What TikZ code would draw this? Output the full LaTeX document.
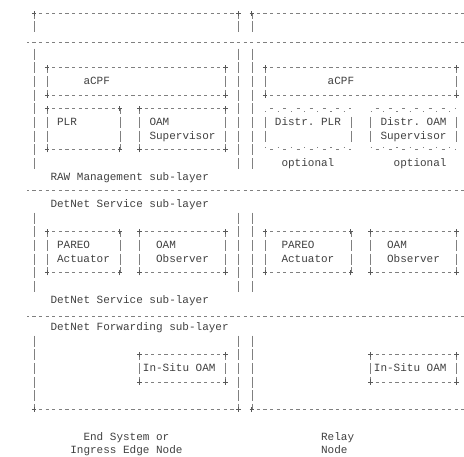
\documentclass[tikz,border=0pt]{standalone}
\usepackage{fontspec}
\setmonofont{Liberation Mono}
\usetikzlibrary{fit}
\definecolor{inkline}{gray}{0.5}
\definecolor{inkcorner}{gray}{0.35}
\definecolor{inktext}{gray}{0.25}
% one unit = one character cell: 6.6pt wide, 13.66pt high (rows grow downwards)
\tikzset{
  hl/.style={draw=inkline, line width=0.7pt, dash pattern=on 3.2pt off 3.4pt, dash phase=1.6pt},
  vlc/.style={draw=inkline, line width=0.6pt, dash pattern=on 11pt off 2.66pt, dash phase=5.5pt},
  vlh/.style={vlc, dash phase=12.33pt},
  dotrow/.style={draw=inkline, line width=0.7pt, dash pattern=on 3pt off 10.2pt, dash phase=8.1pt},
  dotlow/.style={draw=inkline, line width=0.9pt, dash pattern=on 1.2pt off 12pt, dash phase=0.6pt},
  crossmark/.style={draw=inkcorner, line width=0.9pt},
  lbl/.style={anchor=base west, inner sep=0pt, outer sep=0pt, text=inktext,
    font=\ttfamily\fontsize{11}{13}\selectfont},
  cell/.style={inner sep=0pt, outer sep=0pt}
}
% a small plus sign at a box corner
\newcommand\pmark[1]{%
  \draw[crossmark] ([xshift=-2.2pt]#1) -- ([xshift=2.2pt]#1);
  \draw[crossmark] ([yshift=-2.6pt]#1) -- ([yshift=2.6pt]#1);
}
% box drawn from dashes, bars and plus corners: name, left col, top row, right col, bottom row
\newcommand\asciibox[5]{%
  \node[cell, fit={(#2,#3) (#4,#5)}] (#1) {};
  \draw[hl] (#1.north west) -- (#1.north east);
  \draw[hl] (#1.south west) -- (#1.south east);
  \draw[vlc] (#1.north west) -- (#1.south west);
  \draw[vlc] (#1.north east) -- (#1.south east);
  \pmark{#1.north west}\pmark{#1.north east}%
  \pmark{#1.south west}\pmark{#1.south east}%
}
% box with dotted top and bottom rows (optional functions)
\newcommand\optbox[5]{%
  \node[cell, fit={(#2,#3) (#4,#5)}] (#1) {};
  \draw[dotrow] (#1.north west) -- (#1.north east);
  \draw[dotlow] ([yshift=-2.5pt]#1.north west) -- ([yshift=-2.5pt]#1.north east);
  \draw[dotrow] (#1.south west) -- (#1.south east);
  \draw[dotlow] ([yshift=2.5pt]#1.south west) -- ([yshift=2.5pt]#1.south east);
  \draw[vlh] ([yshift=-6.83pt]#1.north west) -- ([yshift=6.83pt]#1.south west);
  \draw[vlh] ([yshift=-6.83pt]#1.north east) -- ([yshift=6.83pt]#1.south east);
}
\begin{document}
\begin{tikzpicture}[x=6.6pt, y=-13.66pt]
\useasboundingbox (-5.1515,-0.9663) rectangle (65.1515,32.4158);

% outer frames of the two nodes (top and bottom rows)
\draw[hl] (0,0) -- (31,0);
\draw[hl] (33,0) -- (65.1515,0);
\draw[hl] (0,29) -- (31,29);
\draw[hl] (33,29) -- (65.1515,29);
% frame sides, broken where the sub-layer names sit
\foreach \c in {0,31,33} {
  \draw[vlc] (\c,0) -- (\c,1.5);
  \draw[vlh] (\c,2.5) -- (\c,11.5);
  \draw[vlh] (\c,14.5) -- (\c,20.5);
  \draw[vlh] (\c,23.5) -- (\c,29);
  \pmark{\c,0}
  \pmark{\c,29}
}

% sub-layer separators
\draw[hl] (-1,2.15) -- (65.1515,2.15);
\draw[hl] (-1,13) -- (65.1515,13);
\draw[hl] (-1,22.2) -- (65.1515,22.2);

% RAW management sub-layer
\asciibox{acpfL}{2}{4}{29}{6}
\asciibox{acpfR}{35}{4}{64}{6}
\asciibox{plr}{2}{7}{13}{10}
\asciibox{oamsup}{16}{7}{29}{10}
\optbox{dplr}{35}{7}{48}{10}
\optbox{doam}{51}{7}{64}{10}

\node[lbl] (tacpfL) at (7.5,5.25) {aCPF};
\node[lbl] (tacpfR) at (44.5,5.25) {aCPF};
\node[lbl] (tplr) at (3.5,8.25) {PLR};
\node[lbl] (toam1) at (17.5,8.25) {OAM};
\node[lbl] (tsup1) at (17.5,9.25) {Supervisor};
\node[lbl] (tdplr) at (36.5,8.25) {Distr. PLR};
\node[lbl] (tdoam) at (52.5,8.25) {Distr. OAM};
\node[lbl] (tsup2) at (52.5,9.25) {Supervisor};
\node[lbl] (topt1) at (37.5,11.25) {optional};
\node[lbl] (topt2) at (54.5,11.25) {optional};
\node[lbl] (trawm) at (2.5,12.25) {RAW Management sub-layer};

% DetNet service sub-layer
\node[lbl] (tsvc1) at (2.5,14.25) {DetNet Service sub-layer};
\asciibox{pareoL}{2}{16}{13}{19}
\asciibox{obsL}{16}{16}{29}{19}
\asciibox{pareoR}{35}{16}{48}{19}
\asciibox{obsR}{51}{16}{64}{19}
\node[lbl] (tpar1) at (3.5,17.25) {PAREO};
\node[lbl] (tact1) at (3.5,18.25) {Actuator};
\node[lbl] (toam2) at (18.5,17.25) {OAM};
\node[lbl] (tobs1) at (18.5,18.25) {Observer};
\node[lbl] (tpar2) at (37.5,17.25) {PAREO};
\node[lbl] (tact2) at (37.5,18.25) {Actuator};
\node[lbl] (toam3) at (53.5,17.25) {OAM};
\node[lbl] (tobs2) at (53.5,18.25) {Observer};
\node[lbl] (tsvc2) at (2.5,21.25) {DetNet Service sub-layer};

% DetNet forwarding sub-layer
\node[lbl] (tfwd) at (2.5,23.25) {DetNet Forwarding sub-layer};
\asciibox{insituL}{16}{25}{29}{27}
\asciibox{insituR}{51}{25}{64}{27}
\node[lbl] (tins1) at (16.5,26.25) {In-Situ OAM};
\node[lbl] (tins2) at (51.5,26.25) {In-Situ OAM};

% node captions
\node[lbl] (tes1) at (7.5,31.25) {End System or};
\node[lbl] (tes2) at (5.5,32.25) {Ingress Edge Node};
\node[lbl] (trl1) at (43.5,31.25) {Relay};
\node[lbl] (trl2) at (43.5,32.25) {Node};
\end{tikzpicture}
\end{document}
